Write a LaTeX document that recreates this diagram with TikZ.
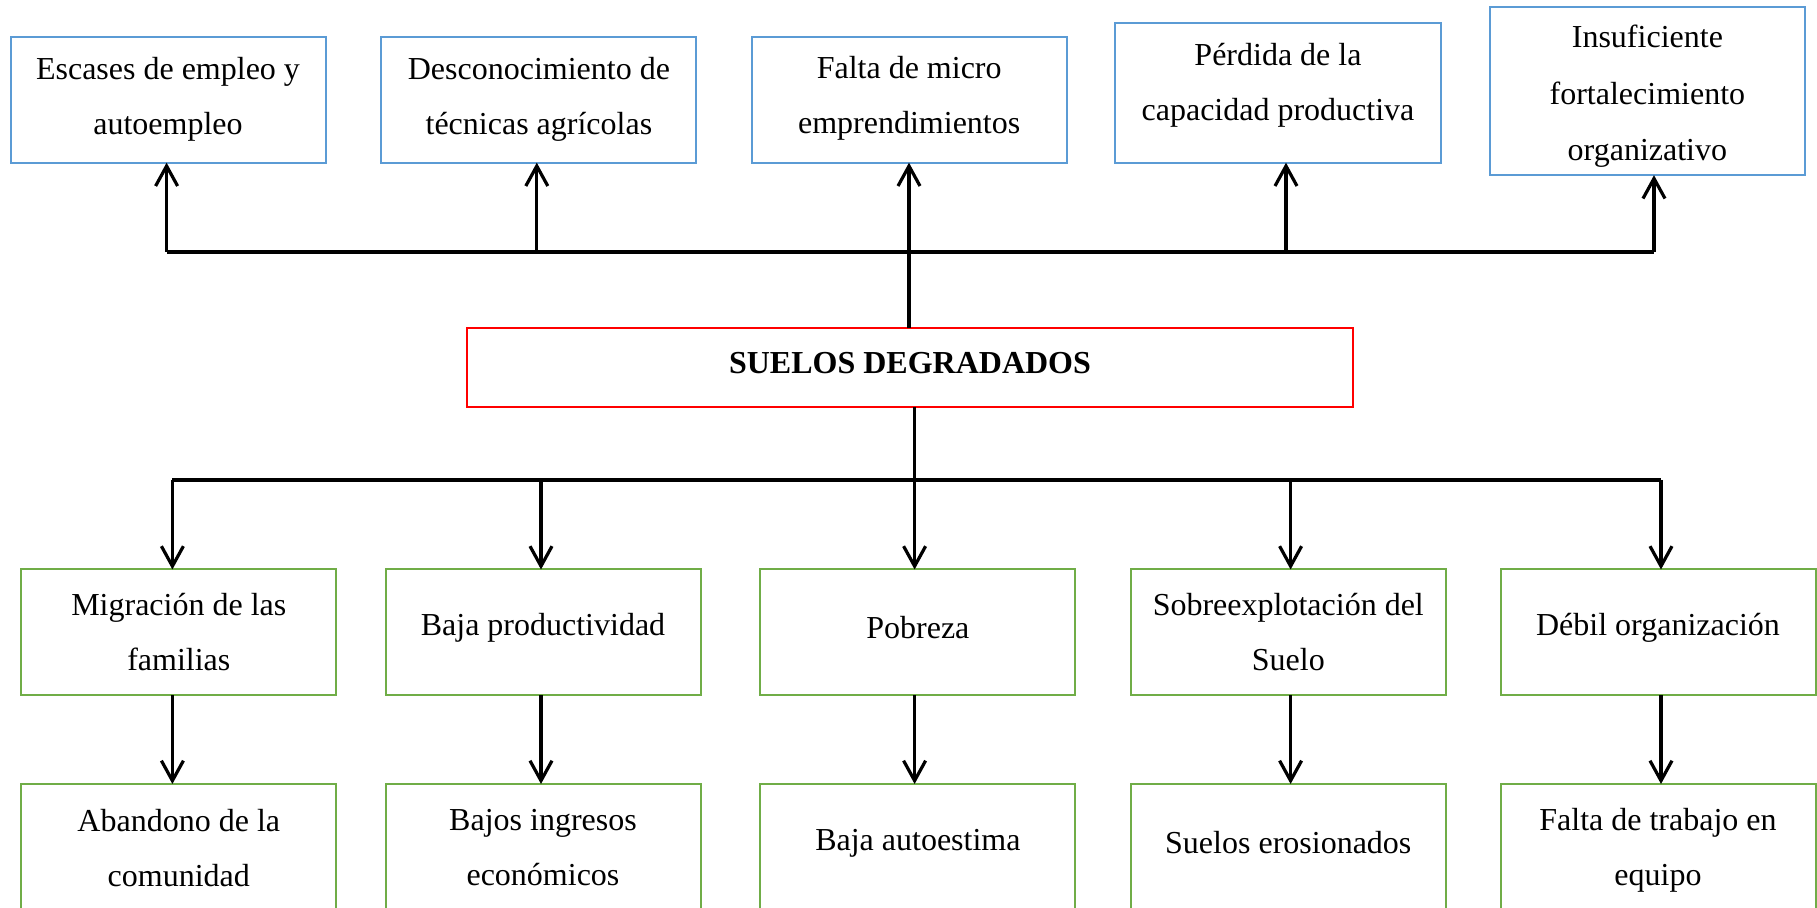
\documentclass[tikz,border=0pt]{standalone}
\usepackage{fontspec}
\setmainfont{Liberation Serif}
\usetikzlibrary{arrows.meta}
\definecolor{bblue}{HTML}{5B9BD5}
\definecolor{bgreen}{HTML}{70AD47}
\definecolor{bred}{HTML}{FF0000}
\begin{document}
\begin{tikzpicture}[x=0.5pt,y=-0.5pt,
  box/.style={draw, line width=1pt, inner sep=0pt, outer sep=0pt, minimum width=157.5pt, minimum height=63pt},
  cbox/.style={box, draw=bblue},
  ebox/.style={box, draw=bgreen},
  tx/.style={align=center, font=\fontsize{16}{27.5}\selectfont, inner sep=0pt},
  arr/.style={line width=1.6pt, -{Straight Barb[length=10pt,width=11pt,line width=1.6pt]}},
  bar/.style={line width=2pt}]
\useasboundingbox (0,0) rectangle (1817,908);
% top boxes
\node[cbox] (t1) at (168,99.7) {};
\node[tx] (t1x) at (168,99) {Escases de empleo y\\autoempleo};
\node[cbox] (t2) at (538.9,99.7) {};
\node[tx] (t2x) at (538.9,99) {Desconocimiento de\\técnicas agrícolas};
\node[cbox] (t3) at (909.2,99.7) {};
\node[tx] (t3x) at (909.2,98) {Falta de micro\\emprendimientos};
\node[cbox, minimum width=163pt, minimum height=70pt] (t4) at (1278,92.7) {};
\node[tx] (t4x) at (1278,85.5) {Pérdida de la\\capacidad productiva};
\node[cbox, minimum height=84pt] (t5) at (1647.4,91.2) {};
\node[tx, font=\fontsize{16}{28.3}\selectfont] (t5x) at (1647.4,96.3) {Insuficiente\\fortalecimiento\\organizativo};
% central box
\node[box, draw=bred, minimum width=443pt, minimum height=39.2pt] (c) at (910,367.5) {};
\node[tx, font=\fontsize{16}{27.5}\selectfont\bfseries] (cx) at (910,363) {SUELOS DEGRADADOS};
% middle boxes
\node[ebox] (m1) at (178.8,632.5) {};
\node[tx] (m1x) at (178.8,632) {Migración de las\\familias};
\node[ebox] (m2) at (543,632.5) {};
\node[tx] (m2x) at (543,628) {Baja productividad};
\node[ebox] (m3) at (917.9,632.5) {};
\node[tx] (m3x) at (917.9,628) {Pobreza};
\node[ebox] (m4) at (1288.3,632.5) {};
\node[tx] (m4x) at (1288.3,632) {Sobreexplotación del\\Suelo};
\node[ebox] (m5) at (1658,632.5) {};
\node[tx] (m5x) at (1658,628) {Débil organización};
% bottom boxes
\node[ebox] (b1) at (178.8,847) {};
\node[tx] (b1x) at (178.8,848) {Abandono de la\\comunidad};
\node[ebox] (b2) at (543,847) {};
\node[tx] (b2x) at (543,848) {Bajos ingresos\\económicos};
\node[ebox] (b3) at (917.9,847) {};
\node[tx] (b3x) at (917.9,843) {Baja autoestima};
\node[ebox] (b4) at (1288.3,847) {};
\node[tx] (b4x) at (1288.3,843) {Suelos erosionados};
\node[ebox] (b5) at (1658,847) {};
\node[tx] (b5x) at (1658,850) {Falta de trabajo en\\equipo};
% coordinates
\coordinate (tb) at (0,252);
\coordinate (bb) at (0,480);
\coordinate (a1) at (166.6,0);
\coordinate (a2) at (536.8,0);
\coordinate (a3) at (909,0);
\coordinate (a4) at (1286,0);
\coordinate (a5) at (1654,0);
\coordinate (x1) at (172.4,0);
\coordinate (x2) at (541,0);
\coordinate (x3) at (914.6,0);
\coordinate (x4) at (1290.6,0);
\coordinate (x5) at (1661,0);
% top connectors
\draw[bar] (a1 |- tb) -- (a5 |- tb);
\draw[arr] (a3 |- c.north) -- (a3 |- t3.south);
\foreach \i in {1,2,4,5} {\draw[arr] (a\i |- tb) -- (a\i |- t\i.south);}
% bottom connectors
\draw[bar] (x1 |- bb) -- (x5 |- bb);
\draw[arr] (x3 |- c.south) -- (x3 |- m3.north);
\foreach \i in {1,2,4,5} {\draw[arr] (x\i |- bb) -- (x\i |- m\i.north);}
\foreach \i in {1,...,5} {\draw[arr] (x\i |- m\i.south) -- (x\i |- b\i.north);}
\end{tikzpicture}
\end{document}
